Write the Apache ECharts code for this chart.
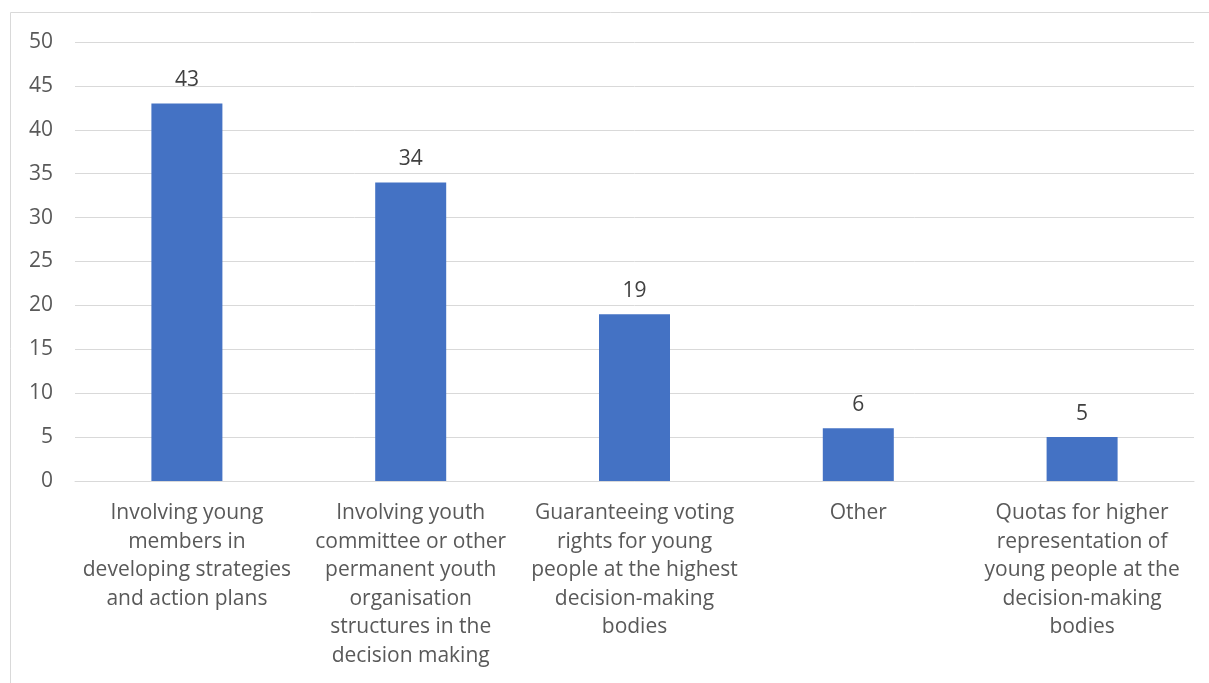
<!DOCTYPE html>
<html>
<head>
<meta charset="utf-8">
<script src="https://cdn.jsdelivr.net/npm/echarts@6/dist/echarts.min.js"></script>
<style>html,body{margin:0;padding:0;background:#fff;}#main{width:1209px;height:683px;}</style>
</head>
<body>
<div id="main"></div>
<script>
const categories = [
  "Involving young\nmembers in\ndeveloping strategies\nand action plans",
  "Involving youth\ncommittee or other\npermanent youth\norganisation\nstructures in the\ndecision making",
  "Guaranteeing voting\nrights for young\npeople at the highest\ndecision-making\nbodies",
  "Other",
  "Quotas for higher\nrepresentation of\nyoung people at the\ndecision-making\nbodies"
];
const values = [43, 34, 19, 6, 5];
const yTicks = [0, 5, 10, 15, 20, 25, 30, 35, 40, 45, 50];

const FONT = "Open Sans";
const chart = echarts.init(document.getElementById('main'));
chart.setOption({
  animation: false,
  textStyle: { fontFamily: FONT },
  graphic: [{
    type: 'rect', silent: true,
    shape: { x: 10.5, y: 12.5, width: 1220, height: 700 },
    style: { fill: 'none', stroke: '#d9d9d9', lineWidth: 1 }
  }],
  grid: { left: 75, right: 15, top: 42, bottom: 202, containLabel: false },
  xAxis: {
    type: 'category',
    data: categories,
    axisLine: { show: true, lineStyle: { color: '#d9d9d9', width: 1 } },
    axisTick: { show: false },
    axisLabel: {
      interval: 0, color: '#595959', fontFamily: FONT, fontSize: 21,
      lineHeight: 28.5, margin: 18, align: 'center'
    }
  },
  yAxis: {
    type: 'value', min: yTicks[0], max: yTicks[yTicks.length - 1], interval: 5,
    axisLine: { show: false }, axisTick: { show: false },
    splitLine: { lineStyle: { color: '#d9d9d9', width: 1 } },
    axisLabel: { color: '#595959', fontFamily: FONT, fontSize: 21, margin: 22 }
  },
  series: [{
    type: 'bar', data: values, barWidth: 71,
    itemStyle: { color: '#4472c4' },
    label: { show: true, position: 'top', distance: 13, color: '#404040', fontFamily: FONT, fontSize: 21 }
  }]
});
</script>
</body>
</html>
